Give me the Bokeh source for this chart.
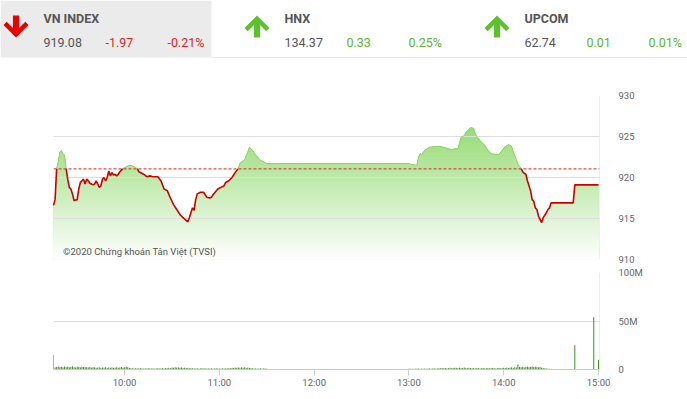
import numpy as np
from bokeh.plotting import figure
from bokeh.layouts import column
from bokeh.models import Range1d, FixedTicker, Span, Label
from bokeh.embed import file_html
from bokeh.resources import INLINE
from bokeh.core.properties import value

# ---------------- data ----------------
index_names = ["VN INDEX", "HNX", "UPCOM"]
index_levels = ["919.08", "134.37", "62.74"]
index_changes = ["-1.97", "0.33", "0.01"]
index_pcts = ["-0.21%", "0.25%", "0.01%"]
index_up = [False, True, True]

close_value = 919.08
close_change = -1.97

price_times = [
    "9:15", "9:16", "9:17", "9:18", "9:19", "9:20", "9:21", "9:22", "9:23", "9:24",
    "9:25", "9:26", "9:27", "9:28", "9:30", "9:31", "9:32", "9:33", "9:34", "9:35",
    "9:36", "9:37", "9:38", "9:39", "9:40", "9:41", "9:42", "9:43", "9:44", "9:45",
    "9:46", "9:47", "9:48", "9:49", "9:50", "9:51", "9:52", "9:53", "9:54", "9:55",
    "9:56", "9:57", "9:58", "9:59", "10:01", "10:03", "10:05", "10:06", "10:08", "10:09",
    "10:10", "10:12", "10:14", "10:16", "10:18", "10:21", "10:23", "10:25", "10:27", "10:29",
    "10:31", "10:33", "10:35", "10:37", "10:40", "10:41", "10:42", "10:43", "10:44", "10:45",
    "10:46", "10:48", "10:50", "10:51", "10:52", "10:54", "10:55", "10:56", "10:59", "11:01",
    "11:03", "11:04", "11:06", "11:08", "11:10", "11:12", "11:13", "11:16", "11:18", "11:19",
    "11:21", "11:23", "11:26", "11:29", "11:30",
    "13:00", "13:01", "13:05", "13:06", "13:07", "13:08", "13:10", "13:13", "13:18", "13:22",
    "13:25", "13:27", "13:29", "13:31", "13:33", "13:35", "13:36", "13:38", "13:39", "13:41",
    "13:42", "13:44", "13:46", "13:48", "13:50", "13:52", "13:55", "13:57", "13:59", "14:01",
    "14:03", "14:05", "14:06", "14:08", "14:09", "14:11", "14:12", "14:13", "14:14", "14:15",
    "14:17", "14:18", "14:19", "14:20", "14:21", "14:22", "14:24", "14:25", "14:27", "14:28",
    "14:29", "14:30", "14:44", "14:45", "15:00",
]
price_values = [
    916.6, 917.3, 921.1, 921.9, 923.1, 923.3, 922.9, 922.7, 921.1, 919.8,
    918.8, 918.6, 918.0, 917.2, 917.3, 918.6, 919.4, 919.6, 919.8, 919.2,
    919.8, 919.6, 919.3, 919.2, 919.1, 919.2, 919.6, 919.2, 918.8, 919.0,
    919.8, 920.0, 919.6, 920.0, 920.8, 920.2, 920.6, 920.3, 920.4, 920.2,
    920.4, 920.7, 920.9, 921.1, 921.3, 921.5, 921.4, 921.3, 921.1, 920.7,
    920.6, 920.4, 920.1, 920.2, 920.1, 920.1, 919.6, 918.6, 918.4, 917.5,
    916.7, 916.1, 915.5, 915.1, 914.6, 915.1, 915.7, 916.3, 916.0, 917.3,
    918.0, 918.2, 918.2, 917.9, 917.6, 917.5, 917.6, 917.9, 918.6, 918.8,
    919.0, 919.4, 919.6, 920.0, 920.6, 921.1, 921.7, 922.2, 923.1, 923.7,
    923.3, 922.7, 922.1, 921.8, 921.7,
    921.7, 921.6, 921.5, 922.4, 922.9, 922.8, 923.3, 923.7, 923.8, 923.7,
    923.5, 923.4, 923.5, 923.5, 924.9, 925.1, 925.5, 925.9, 926.1, 926.0,
    925.3, 924.7, 924.3, 923.9, 923.3, 922.9, 922.8, 922.8, 923.3, 923.8,
    924.0, 923.8, 923.1, 922.2, 921.6, 921.1, 920.7, 920.5, 920.4, 919.6,
    918.4, 917.3, 917.1, 916.3, 916.1, 915.3, 914.5, 915.1, 915.7, 916.1,
    916.3, 916.9, 916.9, 919.1, 919.1,
]

# volume in millions of shares, one bar per minute
vol_morning_start = "9:15"
vol_morning = [
    15.0, 2.1, 2.6, 3.0, 2.4, 2.8, 2.2, 3.1, 2.5, 2.9,
    2.3, 2.7, 3.2, 2.4, 2.0, 2.9, 2.6, 2.2, 3.0, 2.5,
    2.8, 2.3, 2.1, 2.6, 1.9, 2.4, 2.2, 1.8, 2.0, 2.3,
    1.7, 2.1, 1.9, 2.4, 1.6, 2.0, 1.8, 2.2, 1.7, 1.9,
    2.3, 1.8, 2.1, 2.6, 1.9, 2.2, 3.0, 2.4, 1.6, 1.4,
    1.2, 1.1, 1.3, 1.0, 1.2, 1.4, 1.1, 0.9, 1.2, 1.0,
    1.3, 1.1, 1.0, 1.2, 0.9, 1.1, 1.3, 1.0, 1.2, 1.4,
    1.1, 1.5, 1.3, 1.7, 1.4, 2.0, 1.8, 2.3, 1.9, 2.1,
    1.8, 2.2, 1.6, 1.9, 1.5, 1.7, 1.3, 1.4, 1.2, 1.1,
    1.0, 1.2, 0.9, 1.1, 1.3, 1.0, 1.2, 0.9, 1.1, 1.0,
    1.2, 0.9, 1.1, 1.3, 1.0, 1.1, 0.9, 1.2, 1.0, 1.3,
    1.1, 1.4, 1.2, 1.6, 1.5, 1.9, 1.7, 2.1, 1.8, 2.2,
    1.9, 2.3, 1.7, 2.0, 1.6, 1.4, 1.2, 1.0, 1.1, 0.9,
    1.0, 1.2, 0.9, 1.1, 1.0, 0.8,
]
vol_afternoon_start = "13:00"
vol_afternoon = [
    0.9, 0.7, 0.8, 0.6, 0.9, 0.8, 1.0, 0.7, 0.9, 0.8,
    1.0, 0.8, 0.9, 1.1, 0.8, 1.0, 1.2, 0.9, 1.1, 1.3,
    1.2, 1.5, 1.3, 1.6, 1.2, 1.4, 1.7, 1.3, 1.5, 1.8,
    1.6, 1.4, 1.9, 1.5, 1.7, 2.0, 1.6, 1.4, 1.8, 1.5,
    1.3, 1.6, 1.2, 1.5, 1.4, 1.1, 1.3, 1.6, 1.2, 1.4,
    1.5, 1.2, 1.4, 1.7, 1.3, 1.1, 1.4, 1.6, 1.2, 1.5,
    1.8, 1.5, 2.0, 1.6, 1.9, 2.2, 1.7, 2.4, 2.1, 5.2,
    2.6, 2.3, 2.8, 2.1, 2.5, 3.0, 2.4, 2.7, 3.1, 2.6,
    2.9, 2.4, 2.2, 2.6, 1.9, 1.5, 1.2, 1.0, 0.8, 0.6,
    0.5,
]
vol_close_times = ["14:45", "14:50", "14:53", "14:57", "15:00"]
vol_close_values = [25.0, 0.4, 0.3, 54.0, 10.0]

price_ticks = [910, 915, 920, 925, 930]
vol_ticks = [0, 50, 100]
vol_tick_labels = ["0", "50M", "100M"]
hour_ticks = [10, 11, 12, 13, 14, 15]
hour_labels = ["10:00", "11:00", "12:00", "13:00", "14:00", "15:00"]
copyright_text = "©2020 Chứng khoán Tân Việt (TVSI)"


def to_h(s):
    h, m = s.split(":")
    return int(h) + int(m) / 60.0


# ---------------- styling constants ----------------
W = 687
FONT = "Roboto"
GRID = "#dedede"
LABEL_COLOR = "#666666"
RED = "#e02424"
GREEN_TXT = "#5ab82a"

# ---------------- header ----------------
hdr = figure(width=W, height=60, x_range=Range1d(0, W), y_range=Range1d(60, 0),
             output_backend="svg", toolbar_location=None,
             x_axis_location=None, y_axis_location=None,
             min_border=0, outline_line_color=None)
try:
    hdr.frame_align = False
except Exception:
    pass
hdr.grid.visible = False
hdr.quad(left=0, right=211, top=0, bottom=57, fill_color="#ebebeb", line_color=None)
hdr.segment(x0=211, y0=57, x1=W, y1=57, line_color="#e8e8e8", line_width=1)

block_x = [43, 284, 524]
for bx, up in zip(block_x, index_up):
    cx = bx - 27.5
    pts = [(0, 15), (12.5, 27.5), (9.3, 30.7), (3.1, 24.5), (3.1, 37),
           (-3.1, 37), (-3.1, 24.5), (-9.3, 30.7), (-12.5, 27.5)]
    xs = [cx + dx for dx, dy in pts]
    ys = [dy if up else 52 - dy for dx, dy in pts]
    hdr.patch(xs, ys, fill_color="#5cc22a" if up else "#e60000", line_color=None)

hdr.text(x=block_x, y=[17.5] * 3, text=index_names, text_font=value(FONT),
         text_font_style="bold", text_font_size="12.5px", text_color="#555555",
         text_baseline="middle", text_align="left")
hdr.text(x=block_x, y=[42] * 3, text=index_levels, text_font=value(FONT),
         text_font_size="12.5px", text_color="#555555",
         text_baseline="middle", text_align="left")
chg_colors = [GREEN_TXT if u else RED for u in index_up]
hdr.text(x=[b + 62 for b in block_x], y=[42] * 3, text=index_changes, text_font=value(FONT),
         text_font_size="12.5px", text_color=chg_colors,
         text_baseline="middle", text_align="left")
hdr.text(x=[b + 124 for b in block_x], y=[42] * 3, text=index_pcts, text_font=value(FONT),
         text_font_size="12.5px", text_color=chg_colors,
         text_baseline="middle", text_align="left")

# ---------------- price chart ----------------
x0 = to_h("9:15")
x1 = 15.0 + 1.0 / 94.8
ref = close_value - close_change

px = np.array([to_h(t) for t in price_times])
py = np.array(price_values)

# insert crossing points with the reference level
X, Y = [px[0]], [py[0]]
for i in range(1, len(px)):
    a, b = py[i - 1], py[i]
    if (a - ref) * (b - ref) < 0:
        f = (ref - a) / (b - a)
        X.append(px[i - 1] + f * (px[i] - px[i - 1]))
        Y.append(ref)
    X.append(px[i])
    Y.append(py[i])
X = np.array(X)
Y = np.array(Y)

p = figure(width=W, height=205, x_range=Range1d(x0, x1), y_range=Range1d(910, 930),
           output_backend="svg", toolbar_location=None,
           x_axis_location=None, y_axis_location="right",
           min_border_left=53, min_border_right=88, min_border_top=35, min_border_bottom=6,
           outline_line_color=None)
p.xgrid.visible = False
p.ygrid.grid_line_color = GRID
p.ygrid.level = "annotation"
p.yaxis.ticker = FixedTicker(ticks=price_ticks)
p.yaxis.minor_tick_line_color = None
p.yaxis.major_tick_line_color = None
p.yaxis.axis_line_color = None
p.yaxis.major_label_standoff = 13
p.yaxis.major_label_text_font = FONT
p.yaxis.major_label_text_font_size = "9.5px"
p.yaxis.major_label_text_color = LABEL_COLOR

# gradient fill drawn as stacked layers (top colour first)
top_rgb = np.array([125, 212, 85])
bot_rgb = np.array([255, 255, 255])
step = 0.2
levels = np.arange(910 + step, Y.max() + step + 0.001, step)[::-1]
for lv in levels:
    f = np.clip((lv - step / 2 - 910) / 20.0, 0, 1)
    c = (bot_rgb + (top_rgb - bot_rgb) * f).astype(int)
    col = "#%02x%02x%02x" % tuple(c)
    p.varea(x=X, y1=910, y2=np.minimum(Y, lv), fill_color=col, fill_alpha=1.0)

above = np.where(Y >= ref - 1e-9, Y, np.nan)
below = np.where(Y <= ref + 1e-9, Y, np.nan)
p.line(X, above, line_color="#8fd46b", line_width=1, level="overlay")
p.line(X, below, line_color="#cc0000", line_width=1.6, level="overlay")
p.add_layout(Span(location=ref, dimension="width", line_color="#dd2222",
                  line_dash="3 2", line_width=1, level="overlay"))
p.add_layout(Span(location=x1, dimension="height", line_color=GRID, line_width=1))
p.add_layout(Label(x=x0 + 9.5 / 94.8, y=911.0, text=copyright_text, text_font=FONT,
                   text_font_size="9.5px", text_color="#555555", text_baseline="middle"))

# ---------------- volume chart ----------------
m0 = to_h(vol_morning_start)
a0 = to_h(vol_afternoon_start)
vx = ([m0 + i / 60.0 for i in range(len(vol_morning))]
      + [a0 + i / 60.0 for i in range(len(vol_afternoon))]
      + [to_h(t) for t in vol_close_times])
vy = vol_morning + vol_afternoon + vol_close_values

v = figure(width=W, height=134, x_range=Range1d(x0, x1), y_range=Range1d(0, 100),
           output_backend="svg", toolbar_location=None,
           x_axis_location="below", y_axis_location="right",
           min_border_left=53, min_border_right=88, min_border_top=7, min_border_bottom=30,
           outline_line_color=None)
v.xgrid.visible = False
v.ygrid.grid_line_color = GRID
v.yaxis.ticker = FixedTicker(ticks=vol_ticks)
v.yaxis.major_label_overrides = {t: l for t, l in zip(vol_ticks, vol_tick_labels)}
v.yaxis.minor_tick_line_color = None
v.yaxis.major_tick_line_color = None
v.yaxis.axis_line_color = None
v.yaxis.major_label_standoff = 13
v.yaxis.major_label_text_font = FONT
v.yaxis.major_label_text_font_size = "9.5px"
v.yaxis.major_label_text_color = LABEL_COLOR

v.xaxis.ticker = FixedTicker(ticks=hour_ticks)
v.xaxis.major_label_overrides = {t: l for t, l in zip(hour_ticks, hour_labels)}
v.xaxis.minor_tick_line_color = None
v.xaxis.major_tick_in = 0
v.xaxis.major_tick_out = 6
v.xaxis.major_tick_line_color = "#cccccc"
v.xaxis.axis_line_color = "#cccccc"
v.xaxis.major_label_standoff = 1
v.xaxis.major_label_text_font = FONT
v.xaxis.major_label_text_font_size = "9.5px"
v.xaxis.major_label_text_color = LABEL_COLOR

v.segment(x0=vx, y0=0, x1=vx, y1=vy, line_color="#3f8f22", line_width=1)
v.add_layout(Span(location=x1, dimension="height", line_color=GRID, line_width=1))

layout = column(hdr, p, v, spacing=0)
open("out.html", "w").write(file_html(layout, INLINE))
